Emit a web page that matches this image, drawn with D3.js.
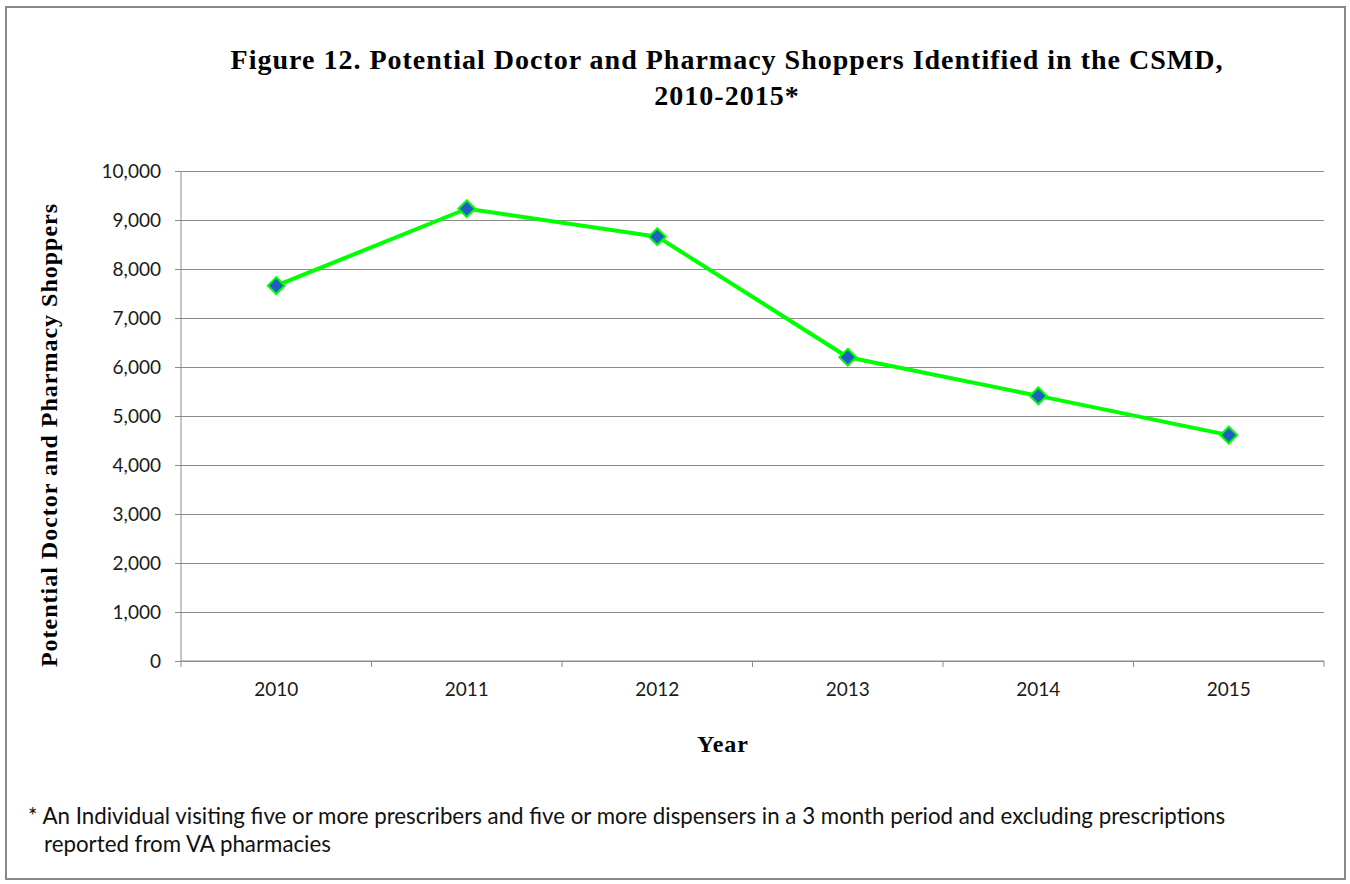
<!DOCTYPE html>
<html>
  <head>
    <meta charset="utf-8">
    <title></title>
    <style>
      body {
        margin: 0;
        background: #fff;
      }
      svg {
        display: block;
      }
      .axis .domain {
        stroke: none;
      }
      .tick text {
        font-family: Lato, "Open Sans", sans-serif;
        font-size: 19px;
        fill: #1a1a1a;
      }
    </style>
  </head>
  <body>
    <div class="chart"></div>
    <script src="https://cdn.jsdelivr.net/npm/d3@7"></script>
    <script>

      let years = ['2010', '2011', '2012', '2013', '2014', '2015'];
      let shoppers = [7660, 9230, 8660, 6200, 5410, 4610];
      let yTicks = [0, 1000, 2000, 3000, 4000, 5000, 6000, 7000, 8000, 9000, 10000];

      let svg = d3.select('.chart').append('svg')
        .attr('width', 1350)
        .attr('height', 884);

      // outer frame
      svg.append('rect')
        .attr('x', 6).attr('y', 7)
        .attr('width', 1339).attr('height', 872)
        .attr('fill', '#fff')
        .attr('stroke', '#888')
        .attr('stroke-width', 2);

      let margin = {top: 171, left: 181};
      let width = 1143;
      let height = 490;

      let g = svg.append('g').attr('transform', 'translate(' + margin.left + ',' + margin.top + ')');

      let x = d3.scaleBand()
        .domain(years)
        .range([0, width]);

      let y = d3.scaleLinear()
        .domain([0, 10000])
        .range([height, 0]);

      // grid lines + y axis
      g.append('g')
        .attr('class', 'axis axis-left')
        .call(d3.axisLeft(y).tickValues(yTicks).tickSize(-width).tickPadding(20).tickFormat(d3.format(',')))
        .call(a => a.selectAll('.tick line').attr('stroke', '#8c8c8c'))
        .call(a => a.selectAll('.tick').append('line')
          .attr('x1', -6).attr('x2', 0).attr('stroke', '#8c8c8c'));

      g.append('line')
        .attr('x1', 0).attr('x2', 0).attr('y1', 0).attr('y2', height)
        .attr('stroke', '#8c8c8c');

      // x axis with ticks on category boundaries
      let xAxis = g.append('g')
        .attr('class', 'axis axis-bottom')
        .attr('transform', 'translate(0,' + height + ')')
        .call(d3.axisBottom(x).tickSize(0).tickPadding(22));

      xAxis.append('line')
        .attr('x1', 0).attr('x2', width)
        .attr('stroke', '#8c8c8c');

      xAxis.selectAll('.boundary')
        .data(d3.range(years.length + 1))
        .join('line')
        .attr('class', 'boundary')
        .attr('x1', i => i * x.step()).attr('x2', i => i * x.step())
        .attr('y1', 0).attr('y2', 6)
        .attr('stroke', '#8c8c8c');

      let data = years.map((d, i) => ({year: d, value: shoppers[i]}));
      let cx = d => x(d.year) + x.bandwidth() / 2;

      g.append('path')
        .datum(data)
        .attr('fill', 'none')
        .attr('stroke', '#00ff00')
        .attr('stroke-width', 4)
        .attr('stroke-linejoin', 'round')
        .attr('d', d3.line().x(cx).y(d => y(d.value)));

      g.selectAll('.marker')
        .data(data)
        .join('path')
        .attr('class', 'marker')
        .attr('transform', d => 'translate(' + cx(d) + ',' + y(d.value) + ')')
        .attr('d', d3.symbol(d3.symbolDiamond2, 180)())
        .attr('fill', '#1f5fc4')
        .attr('stroke', '#00ff00')
        .attr('stroke-width', 2);

      // titles
      let serif = '"Liberation Serif", "Times New Roman", serif';

      let title = svg.append('text')
        .attr('text-anchor', 'middle')
        .attr('font-family', serif)
        .attr('font-weight', 'bold')
        .attr('font-size', 28)
        .attr('letter-spacing', 1)
        .attr('fill', '#000');
      title.append('tspan').attr('x', 727).attr('y', 69)
        .text('Figure 12. Potential Doctor and Pharmacy Shoppers Identified in the CSMD,');
      title.append('tspan').attr('x', 727).attr('y', 105)
        .text('2010-2015*');

      svg.append('text')
        .attr('transform', 'translate(57,435) rotate(-90)')
        .attr('text-anchor', 'middle')
        .attr('font-family', serif)
        .attr('font-weight', 'bold')
        .attr('font-size', 24)
        .attr('letter-spacing', 1)
        .text('Potential Doctor and Pharmacy Shoppers');

      svg.append('text')
        .attr('x', 723).attr('y', 752)
        .attr('text-anchor', 'middle')
        .attr('font-family', serif)
        .attr('font-weight', 'bold')
        .attr('font-size', 24)
        .attr('letter-spacing', 1)
        .text('Year');

      let note = svg.append('text')
        .attr('font-family', 'Lato, "Open Sans", sans-serif')
        .attr('font-size', 22.3)
        .attr('fill', '#111');
      note.append('tspan').attr('x', 28).attr('y', 824)
        .text('* An Individual visiting five or more prescribers and five or more dispensers in a 3 month period and excluding prescriptions');
      note.append('tspan').attr('x', 44).attr('y', 852)
        .text('reported from VA pharmacies');

    </script>
  </body>
</html>
